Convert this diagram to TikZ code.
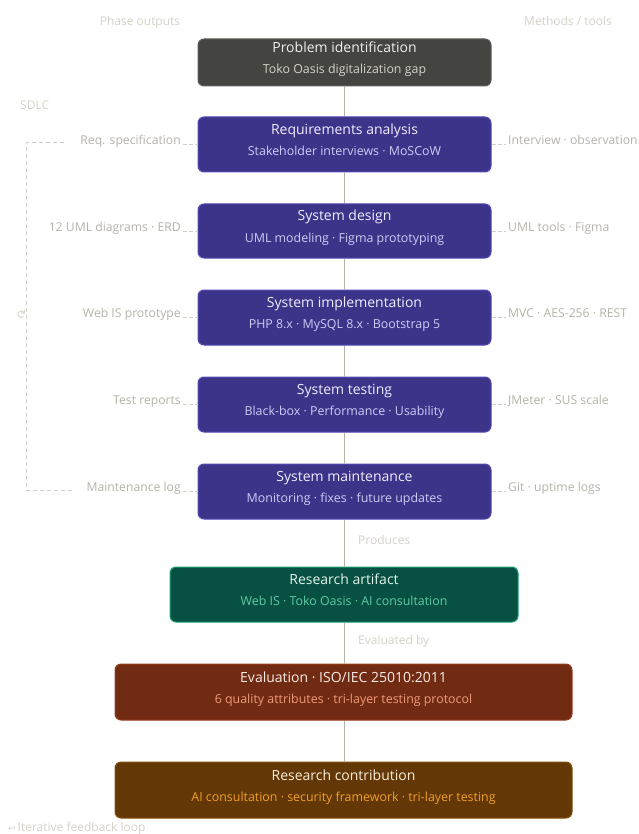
\documentclass[tikz,border=0pt]{standalone}
\usepackage{fontspec}
\setmainfont{Open Sans}
\newfontfamily\symfont{DejaVu Sans}
\definecolor{conn}{HTML}{B4B2A9}
\definecolor{side}{HTML}{B4B2A9}
\definecolor{head}{HTML}{D3D1C7}
\definecolor{grayF}{HTML}{444441}
\definecolor{grayB}{HTML}{5F5E5A}
\definecolor{grayT}{HTML}{F1EFE8}
\definecolor{grayS}{HTML}{D3D1C7}
\definecolor{purF}{HTML}{3C3489}
\definecolor{purB}{HTML}{534AB7}
\definecolor{purT}{HTML}{EEEDFE}
\definecolor{purS}{HTML}{CECBF6}
\definecolor{grnF}{HTML}{085041}
\definecolor{grnB}{HTML}{1D9E75}
\definecolor{grnT}{HTML}{E1F5EE}
\definecolor{grnS}{HTML}{5DCAA5}
\definecolor{redF}{HTML}{712B13}
\definecolor{redB}{HTML}{993C1D}
\definecolor{redT}{HTML}{FAECE7}
\definecolor{redS}{HTML}{F0997B}
\definecolor{ambF}{HTML}{633806}
\definecolor{ambB}{HTML}{854F0B}
\definecolor{ambT}{HTML}{FAEEDA}
\definecolor{ambS}{HTML}{EF9F27}
\tikzset{
  box/.style={draw, rounded corners=6pt, line width=1pt, inner sep=0pt},
  ttl/.style={anchor=base, inner sep=0pt, font=\fontsize{14}{16}\selectfont},
  sub/.style={anchor=base, inner sep=0pt, font=\fontsize{12.4}{14}\selectfont},
  sidel/.style={inner sep=0pt, text=side, font=\fontsize{12.2}{14}\selectfont},
  headl/.style={inner sep=0pt, text=head, font=\fontsize{12}{14}\selectfont},
  link/.style={draw=conn, line width=1.5pt},
  sidedash/.style={draw=head, line width=1pt, dash pattern=on 4pt off 2pt},
  loopdash/.style={draw=head, line width=1pt, dash pattern=on 4pt off 3pt},
}
\begin{document}
\begin{tikzpicture}[x=1pt, y=-1pt]
\useasboundingbox (0,0) rectangle (638,834);
% headers
\node[headl, anchor=base] (hp) at (140,25.5) {Phase outputs};
\node[headl, anchor=base] (hm) at (568,25.5) {Methods / tools};
\node[headl, anchor=base west] (sdlc) at (20,109.5) {SDLC};
% main boxes
\node[box, fill=grayF, draw=grayB, minimum width=293pt, minimum height=47pt] (b1) at (344.5,62.5) {};
\node[box, fill=purF, draw=purB, minimum width=293pt, minimum height=55pt] (b2) at (344.5,144.5) {};
\node[box, fill=purF, draw=purB, minimum width=293pt, minimum height=54pt] (b3) at (344.5,231) {};
\node[box, fill=purF, draw=purB, minimum width=293pt, minimum height=55pt] (b4) at (344.5,317.5) {};
\node[box, fill=purF, draw=purB, minimum width=293pt, minimum height=55pt] (b5) at (344.5,404.5) {};
\node[box, fill=purF, draw=purB, minimum width=293pt, minimum height=55pt] (b6) at (344.5,491.5) {};
\node[box, fill=grnF, draw=grnB, minimum width=348pt, minimum height=55pt] (b7) at (344,594.5) {};
\node[box, fill=redF, draw=redB, minimum width=457pt, minimum height=56pt] (b8) at (343.5,692) {};
\node[box, fill=ambF, draw=ambB, minimum width=457pt, minimum height=56pt] (b9) at (343.5,790) {};
% connectors
\draw[link] (b1) -- (b2);
\draw[link] (b2) -- (b3);
\draw[link] (b3) -- (b4);
\draw[link] (b4) -- (b5);
\draw[link] (b5) -- (b6);
\draw[link] (b6.south) -- (b7.north -| b6.south);
\draw[link] (b7.south -| b6.south) -- (b8.north -| b6.south);
\draw[link] (b8.south -| b6.south) -- (b9.north -| b6.south);
\node[headl, anchor=base west] (pr) at (358,544.5) {Produces};
\node[headl, anchor=base west] (ev) at (358,644.5) {Evaluated by};
% box texts
\node[ttl, text=grayT] (t1) at ([yshift=10pt]b1.center) {Problem identification};
\node[sub, text=grayS] (s1) at ([yshift=-11pt]b1.center) {Toko Oasis digitalization gap};
\node[ttl, text=purT] (t2) at ([yshift=10pt]b2.center) {Requirements analysis};
\node[sub, text=purS] (s2) at ([yshift=-11pt]b2.center) {Stakeholder interviews · MoSCoW};
\node[ttl, text=purT] (t3) at ([yshift=10pt]b3.center) {System design};
\node[sub, text=purS] (s3) at ([yshift=-11pt]b3.center) {UML modeling · Figma prototyping};
\node[ttl, text=purT] (t4) at ([yshift=10pt]b4.center) {System implementation};
\node[sub, text=purS] (s4) at ([yshift=-11pt]b4.center) {PHP 8.x · MySQL 8.x · Bootstrap 5};
\node[ttl, text=purT] (t5) at ([yshift=10pt]b5.center) {System testing};
\node[sub, text=purS] (s5) at ([yshift=-11pt]b5.center) {Black-box · Performance · Usability};
\node[ttl, text=purT] (t6) at ([yshift=10pt]b6.center) {System maintenance};
\node[sub, text=purS] (s6) at ([yshift=-11pt]b6.center) {Monitoring · fixes · future updates};
\node[ttl, text=grnT] (t7) at ([yshift=10pt]b7.center) {Research artifact};
\node[sub, text=grnS] (s7) at ([yshift=-11pt]b7.center) {Web IS · Toko Oasis · AI consultation};
\node[ttl, text=redT] (t8) at ([yshift=10pt]b8.center) {Evaluation · ISO/IEC 25010:2011};
\node[sub, text=redS] (s8) at ([yshift=-11pt]b8.center) {6 quality attributes · tri-layer testing protocol};
\node[ttl, text=ambT] (t9) at ([yshift=10pt]b9.center) {Research contribution};
\node[sub, text=ambS] (s9) at ([yshift=-11pt]b9.center) {AI consultation · security framework · tri-layer testing};
% left labels
\node[sidel, anchor=base east] (l2) at (181,144.5) {Req. specification};
\node[sidel, anchor=base east] (l3) at (181,231) {12 UML diagrams · ERD};
\node[sidel, anchor=base east] (l4) at (181,317.5) {Web IS prototype};
\node[sidel, anchor=base east] (l5) at (181,404.5) {Test reports};
\node[sidel, anchor=base east] (l6) at (181,491.5) {Maintenance log};
\foreach \i in {2,...,6} {
  \draw[sidedash] ([xshift=2pt]l\i.base east) -- (l\i.base east -| b\i.west);
}
% right labels
\node[sidel, anchor=base west] (r2) at (508,144.5) {Interview · observation};
\node[sidel, anchor=base west] (r3) at (508,231) {UML tools · Figma};
\node[sidel, anchor=base west] (r4) at (508,317.5) {MVC · AES-256 · REST};
\node[sidel, anchor=base west] (r5) at (508,404.5) {JMeter · SUS scale};
\node[sidel, anchor=base west] (r6) at (508,491.5) {Git · uptime logs};
\foreach \i in {2,...,6} {
  \draw[sidedash] (b\i.east |- r\i.base west) -- ([xshift=-2pt]r\i.base west);
}
% feedback loop
\coordinate (lt) at (64,143);
\coordinate (lb) at (75,490);
\draw[loopdash] (lt) -- (26,143) -- (26,490) -- (lb);
\node[inner sep=0pt, text=head, font=\symfont\fontsize{12}{14}\selectfont, rotate=-90] (ic) at (21,315) {↻};
% bottom caption
\node[inner sep=0pt, anchor=base west, text=head, font=\fontsize{12}{14}\selectfont] (cap) at (8,831) {{\symfont\fontsize{9}{10}\selectfont ↩}\,Iterative feedback loop};
\end{tikzpicture}
\end{document}
